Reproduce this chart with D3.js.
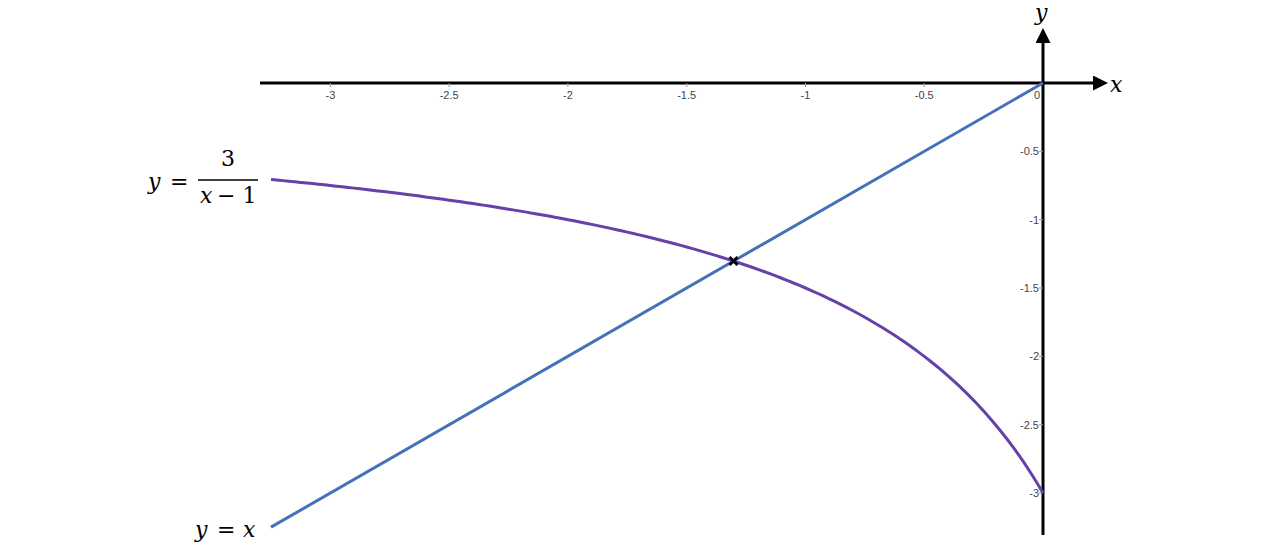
<!DOCTYPE html>
<html><head><meta charset="utf-8">
<script src="https://cdn.jsdelivr.net/npm/d3@7"></script>
<style>body{margin:0;background:#fff}</style></head>
<body><svg id="c" width="1280" height="557"></svg>
<script>
const xTicks=[-3,-2.5,-2,-1.5,-1,-0.5,0];
const yTicks=[-0.5,-1,-1.5,-2,-2.5,-3];
const xDomain=[-3.25,0];
const curveXs=d3.range(0,131).map(i=>-3.25+i*0.025);
const svg=d3.select("#c");
const x=d3.scaleLinear().domain([-3.25,0]).range([271,1043]);
const y=d3.scaleLinear().domain([0,-3]).range([83,493]);
const f=t=>3/(t-1);
const defs=svg.append("defs");
defs.append("marker").attr("id","ar").attr("viewBox","0 0 10 10").attr("refX",2).attr("refY",5)
 .attr("markerWidth",5).attr("markerHeight",5).attr("orient","auto")
 .append("path").attr("d","M0,0L10,5L0,10z").attr("fill","#000");
svg.append("line").attr("x1",260).attr("y1",y(0)).attr("x2",1096).attr("y2",y(0)).attr("stroke","#000").attr("stroke-width",3).attr("marker-end","url(#ar)");
svg.append("line").attr("x1",x(0)).attr("y1",535).attr("x2",x(0)).attr("y2",40).attr("stroke","#000").attr("stroke-width",3).attr("marker-end","url(#ar)");
svg.selectAll(".xt").data(xTicks).join("text").attr("x",d=>x(d)-(d===0?6:0)).attr("y",y(0)+16)
 .attr("text-anchor","middle").attr("font-family","Liberation Sans, Arial").attr("font-size",11).attr("fill","#444").text(d=>d);
svg.selectAll(".xtm").data(xTicks.filter(d=>d!==0)).join("line").attr("x1",d=>x(d)).attr("x2",d=>x(d)).attr("y1",y(0)).attr("y2",y(0)+4).attr("stroke","#999");
svg.selectAll(".yt").data(yTicks).join("text").attr("x",x(0)-4).attr("y",d=>y(d)+4)
 .attr("text-anchor","end").attr("font-family","Liberation Sans, Arial").attr("font-size",11).attr("fill","#444").text(d=>d);
svg.selectAll(".ytm").data(yTicks).join("line").attr("x1",x(0)-4).attr("x2",x(0)).attr("y1",d=>y(d)).attr("y2",d=>y(d)).attr("stroke","#999");
svg.append("path").attr("d",d3.line().x(d=>x(d)).y(d=>y(d))(xDomain)).attr("stroke","#4472b8").attr("stroke-width",3).attr("fill","none");
svg.append("path").attr("d",d3.line().x(d=>x(d)).y(d=>y(f(d)))(curveXs)).attr("stroke","#6541a8").attr("stroke-width",3).attr("fill","none");
const xi=(1-Math.sqrt(13))/2, px=x(xi), py=y(xi);
svg.append("path").attr("d",`M${px-4},${py-4}L${px+4},${py+4}M${px-4},${py+4}L${px+4},${py-4}`).attr("stroke","#000").attr("stroke-width",3);
function t(xx,yy,s,italic,size){const e=svg.append("text").attr("x",xx).attr("y",yy).attr("font-family","DejaVu Serif, serif").attr("font-size",size||22).attr("fill","#000").text(s);if(italic)e.attr("font-style","italic");return e;}
t(1110,92,"x",true);
t(1035,20,"y",true);
t(148,189,"y",true);
t(170,189,"=",false);
t(228,166,"3",false).attr("text-anchor","middle");
svg.append("line").attr("x1",198).attr("x2",258).attr("y1",180).attr("y2",180).attr("stroke","#000").attr("stroke-width",1.5);
t(200,203,"x",true);t(217,203,"− 1",false);
t(195,537,"y",true);t(217,537,"=",false);t(243,537,"x",true);
</script></body></html>
